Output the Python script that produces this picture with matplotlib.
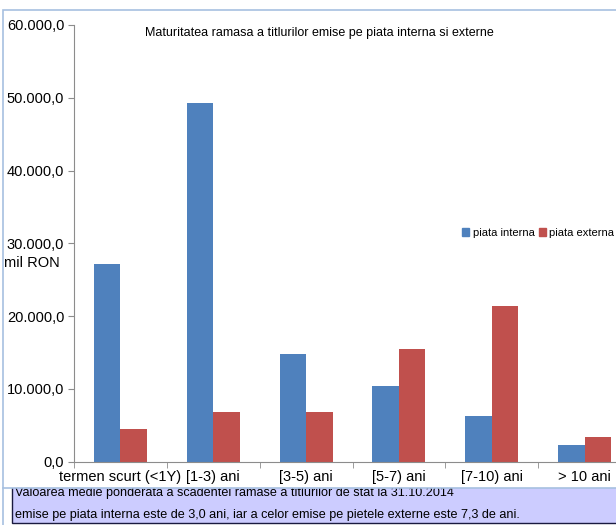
import matplotlib
matplotlib.use('Agg')
import matplotlib.pyplot as plt
from matplotlib.patches import Rectangle, Patch
from matplotlib.ticker import FuncFormatter, FixedLocator
import numpy as np

plt.rcParams['font.family'] = ['Liberation Sans', 'DejaVu Sans']

categories = ['termen scurt (<1Y)', '[1-3) ani', '[3-5) ani', '[5-7) ani', '[7-10) ani', '> 10 ani']
piata_interna = [27150, 49240, 14780, 10380, 6200, 2270]
piata_externa = [4470, 6800, 6800, 15460, 21370, 3370]
series_names = ['piata interna', 'piata externa']
title = 'Maturitatea ramasa a titlurilor emise pe piata interna si externe'
note_lines = ['Valoarea medie ponderata a scadentei ramase a titlurilor de stat la 31.10.2014',
              'emise pe piata interna este de 3,0 ani, iar a celor emise pe pietele externe este 7,3 de ani.']

W, H = 616, 525
fig = plt.figure(figsize=(W / 100, H / 100), dpi=100)

# background layer in pixel coords: note box + chart frame
bg = fig.add_axes([0, 0, 1, 1], zorder=0)
bg.set_xlim(0, W)
bg.set_ylim(H, 0)
bg.axis('off')
bg.add_patch(Rectangle((12, 485), 620, 38, facecolor='#ccccff', edgecolor='#1a1a40', lw=1, zorder=1))
bg.text(15, 493, note_lines[0], fontsize=9.1, va='center', ha='left', zorder=2)
bg.text(15, 515, note_lines[1], fontsize=9.1, va='center', ha='left', zorder=2)
bg.add_patch(Rectangle((2.5, 10), 640, 478, facecolor='white', edgecolor='#a7c0e0', lw=1.2, zorder=3))
bg.plot([2.5, 2.5], [488, 525], color='#a7c0e0', lw=1.2, zorder=3)

# chart
ax = fig.add_axes([74 / W, 1 - 461.5 / H, (631 - 74) / W, (461.5 - 25) / H], zorder=1)
ax.patch.set_alpha(0)

x = np.arange(len(categories))
bw = 0.285
ax.bar(x - bw / 2, piata_interna, bw, color='#4f81bd', label=series_names[0])
ax.bar(x + bw / 2, piata_externa, bw, color='#c0504d', label=series_names[1])

ax.set_xlim(-0.5, len(categories) - 0.5)
ax.set_ylim(0, 60000)
ax.set_yticks(np.arange(0, 60001, 10000))
ax.yaxis.set_major_formatter(FuncFormatter(lambda v, p: f'{v:,.1f}'.replace(',', ' ').replace('.', ',').replace(' ', '.')))
ax.set_xticks(x)
ax.set_xticklabels(categories)
ax.xaxis.set_minor_locator(FixedLocator(np.arange(-0.5, len(categories), 1)))

for s in ['top', 'right']:
    ax.spines[s].set_visible(False)
for s in ['left', 'bottom']:
    ax.spines[s].set_color('#8c8c8c')
ax.tick_params(axis='y', length=4, color='#8c8c8c', labelsize=10.5, pad=3)
ax.tick_params(axis='x', which='major', length=0, labelsize=10.5, pad=6)
ax.tick_params(axis='x', which='minor', length=4, color='#8c8c8c')

fig.text(319 / W, 1 - 33 / H, title, fontsize=9, ha='center', va='center')
fig.text(4 / W, 1 - 263 / H, 'mil RON', fontsize=10.5, ha='left', va='center')

handles = [Patch(color='#4f81bd'), Patch(color='#c0504d')]
fig.legend(handles, series_names, loc='center left', bbox_to_anchor=(462 / W, 1 - 233 / H),
           ncol=2, frameon=False, fontsize=8, handlelength=0.65, handleheight=0.65,
           handletextpad=0.3, columnspacing=0.4, borderpad=0, borderaxespad=0)

fig.savefig('out.png', dpi=100)
